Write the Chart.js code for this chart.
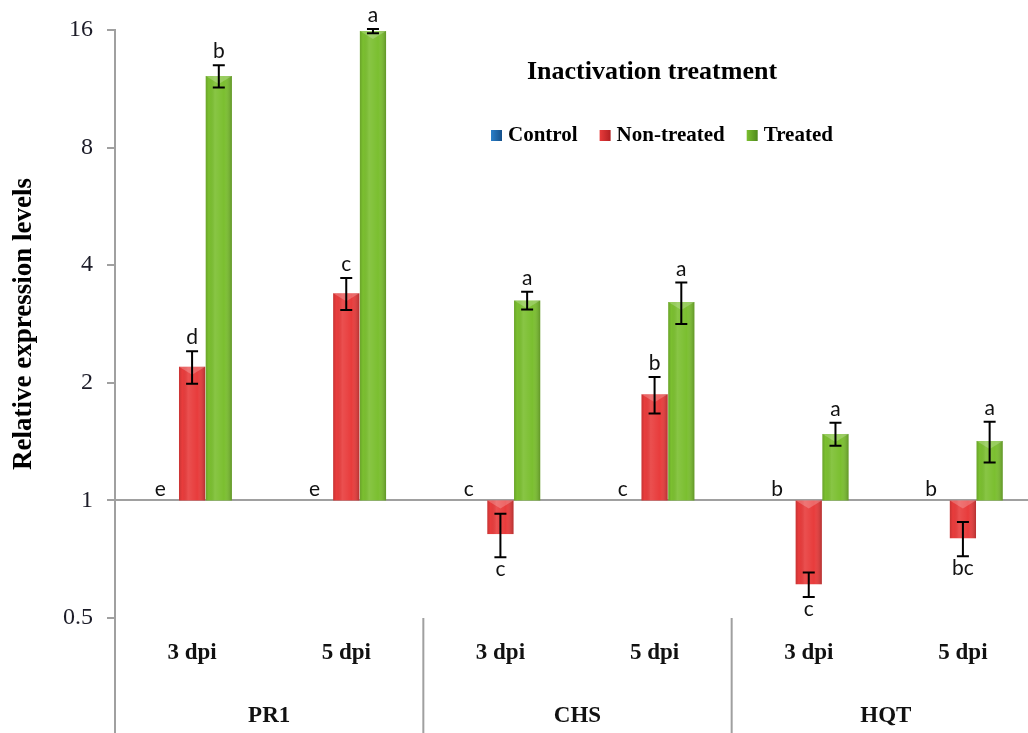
<!DOCTYPE html>
<html>
<head>
<meta charset="utf-8">
<script src="https://cdn.jsdelivr.net/npm/chart.js@4.4.1/dist/chart.umd.min.js"></script>
<style>
  html, body { margin: 0; padding: 0; background: #fff; overflow: hidden; }
  #wrap { width: 1040px; height: 733px; }
</style>
</head>
<body>
<div id="wrap"><canvas id="myChart"></canvas></div>
<script>
// sampling days and genes
const dpiLabels = ['3 dpi', '5 dpi', '3 dpi', '5 dpi', '3 dpi', '5 dpi'];
const geneLabels = ['PR1', 'CHS', 'HQT'];
const yTicks = [0.5, 1, 2, 4, 8, 16];

// relative expression (fold change, control = 1)
const controlValues = [1, 1, 1, 1, 1, 1];
const nonTreatedValues = [2.2, 3.39, 0.82, 1.87, 0.61, 0.80];
const treatedValues = [12.2, 15.9, 3.25, 3.22, 1.48, 1.42];

// standard deviations
const controlErrors = [0, 0, 0, 0, 0, 0];
const nonTreatedErrors = [0.21, 0.32, 0.105, 0.2, 0.044, 0.08];
const treatedErrors = [0.8, 0.2, 0.17, 0.39, 0.1, 0.17];

// significance groups
const controlLetters = ['e', 'e', 'c', 'c', 'b', 'b'];
const nonTreatedLetters = ['d', 'c', 'c', 'b', 'c', 'bc'];
const treatedLetters = ['b', 'a', 'a', 'a', 'a', 'a'];

const serif = '"Liberation Serif", "Times New Roman", serif';
const sans = 'Lato, "Liberation Sans", sans-serif';

// bars start at 1 so values below 1 hang downward on the log axis
const fromOne = values => values.map(v => [1, v]);

// glossy shading on top of every bar
const barShade = {
    id: 'barShade',
    afterDatasetsDraw(chart) {
        const ctx = chart.ctx;
        chart.data.datasets.forEach((ds, di) => {
            chart.getDatasetMeta(di).data.forEach(bar => {
                const { x, y, base, width } = bar.getProps(['x', 'y', 'base', 'width'], true);
                const top = Math.min(y, base);
                const h = Math.abs(base - y);
                if (h < 1) return;
                const left = x - width / 2;
                const g = ctx.createLinearGradient(left, 0, left + width, 0);
                g.addColorStop(0, 'rgba(0,0,0,0.14)');
                g.addColorStop(0.12, 'rgba(0,0,0,0)');
                g.addColorStop(0.35, 'rgba(255,255,255,0.1)');
                g.addColorStop(0.7, 'rgba(255,255,255,0)');
                g.addColorStop(1, 'rgba(0,0,0,0.22)');
                ctx.save();
                ctx.fillStyle = g;
                ctx.fillRect(left, top, width, h);
                ctx.beginPath();
                ctx.moveTo(left, top);
                ctx.lineTo(left + width, top);
                ctx.lineTo(x, top + Math.min(8, h));
                ctx.closePath();
                ctx.fillStyle = 'rgba(255,255,255,0.22)';
                ctx.fill();
                ctx.restore();
            });
        });
    }
};

// error bars and letters
const errorLetters = {
    id: 'errorLetters',
    afterDatasetsDraw(chart) {
        const ctx = chart.ctx;
        const yScale = chart.scales.y;
        ctx.save();
        chart.data.datasets.forEach((ds, di) => {
            chart.getDatasetMeta(di).data.forEach((bar, i) => {
                const v = ds.data[i][1];
                const err = ds.errors[i];
                const x = bar.x;
                ctx.font = '21px ' + sans;
                ctx.fillStyle = '#111';
                ctx.textAlign = 'center';
                ctx.textBaseline = 'alphabetic';
                if (err === 0) {
                    ctx.fillText(ds.letters[i], x - 5, yScale.getPixelForValue(1) - 4);
                    return;
                }
                const yHi = yScale.getPixelForValue(v + err);
                const yLo = yScale.getPixelForValue(v - err);
                ctx.strokeStyle = '#000';
                ctx.lineWidth = 2;
                ctx.beginPath();
                ctx.moveTo(x, yHi); ctx.lineTo(x, yLo);
                ctx.moveTo(x - 6, yHi); ctx.lineTo(x + 6, yHi);
                ctx.moveTo(x - 6, yLo); ctx.lineTo(x + 6, yLo);
                ctx.stroke();
                if (v >= 1) {
                    ctx.fillText(ds.letters[i], x, yHi - 7);
                } else {
                    ctx.fillText(ds.letters[i], x, yLo + 19);
                }
            });
        });
        ctx.restore();
    }
};

// title, legend, and the axis lines running through the label rows
const frame = {
    id: 'frame',
    afterDraw(chart) {
        const ctx = chart.ctx;
        const area = chart.chartArea;
        const xScale = chart.scales.x;
        const bottom = chart.height;
        ctx.save();
        ctx.strokeStyle = '#a0a0a0';
        ctx.lineWidth = 2;
        ctx.beginPath();
        ctx.moveTo(area.left, area.bottom);
        ctx.lineTo(area.left, bottom);
        [1, 3].forEach(i => {
            const sx = (xScale.getPixelForValue(i) + xScale.getPixelForValue(i + 1)) / 2;
            ctx.moveTo(sx, area.bottom);
            ctx.lineTo(sx, bottom);
        });
        ctx.stroke();

        ctx.fillStyle = '#000';
        ctx.textAlign = 'center';
        ctx.textBaseline = 'middle';
        ctx.font = 'bold 26px ' + serif;
        ctx.fillText('Inactivation treatment', 652, 72);

        ctx.font = 'bold 21px ' + serif;
        ctx.textAlign = 'left';
        let lx = 491;
        chart.data.datasets.forEach(ds => {
            const g = ctx.createLinearGradient(lx, 0, lx + 11, 0);
            g.addColorStop(0, ds.backgroundColor);
            g.addColorStop(1, ds.borderColor);
            ctx.fillStyle = g;
            ctx.fillRect(lx, 130, 11, 11);
            lx += 17;
            ctx.fillStyle = '#000';
            ctx.fillText(ds.label, lx, 136);
            lx += ctx.measureText(ds.label).width + 22;
        });
        ctx.restore();
    }
};

new Chart(document.getElementById('myChart'), {
    type: 'bar',
    data: {
        labels: dpiLabels,
        datasets: [
            {
                label: 'Control',
                data: fromOne(controlValues),
                errors: controlErrors,
                letters: controlLetters,
                backgroundColor: '#2a7fc9',
                borderColor: '#15508a'
            },
            {
                label: 'Non-treated',
                data: fromOne(nonTreatedValues),
                errors: nonTreatedErrors,
                letters: nonTreatedLetters,
                backgroundColor: '#e83c3c',
                borderColor: '#b21f22'
            },
            {
                label: 'Treated',
                data: fromOne(treatedValues),
                errors: treatedErrors,
                letters: treatedLetters,
                backgroundColor: '#7bbf30',
                borderColor: '#4f8a1c'
            }
        ]
    },
    options: {
        responsive: true,
        maintainAspectRatio: false,
        animation: false,
        categoryPercentage: 0.52,
        barPercentage: 0.98,
        borderWidth: 0,
        layout: { padding: { top: 30, right: 0, left: 0, bottom: 0 } },
        plugins: {
            legend: { display: false },
            tooltip: { enabled: false }
        },
        scales: {
            y: {
                type: 'logarithmic',
                min: 0.5,
                max: 16,
                afterBuildTicks: scale => {
                    scale.ticks = yTicks.map(v => ({ value: v }));
                },
                afterFit: scale => { scale.width = 115; },
                ticks: {
                    autoSkip: false,
                    padding: 14,
                    color: '#1c1c28',
                    font: { family: serif, size: 24 },
                    callback: v => String(v)
                },
                grid: {
                    drawOnChartArea: true,
                    color: c => (c.tick && c.tick.value === 1 ? '#a0a0a0' : 'rgba(0,0,0,0)'),
                    tickColor: '#a0a0a0',
                    tickLength: 8,
                    lineWidth: 2
                },
                border: { display: true, color: '#a0a0a0', width: 2 },
                title: {
                    display: true,
                    text: 'Relative expression levels',
                    color: '#000',
                    font: { family: serif, size: 27, weight: 'bold' },
                    padding: { top: 8, bottom: 0 }
                }
            },
            x: {
                afterFit: scale => { scale.height = 65; },
                grid: { display: false, drawTicks: false },
                border: { display: false },
                ticks: {
                    padding: 21,
                    color: '#111',
                    font: { family: serif, size: 23, weight: 'bold' }
                }
            },
            x2: {
                type: 'category',
                position: 'bottom',
                labels: geneLabels,
                offset: true,
                weight: 1,
                afterFit: scale => { scale.height = 50; },
                grid: { display: false, drawTicks: false },
                border: { display: false },
                ticks: {
                    padding: 19,
                    color: '#111',
                    font: { family: serif, size: 23, weight: 'bold' }
                }
            }
        }
    },
    plugins: [barShade, errorLetters, frame]
});
</script>
</body>
</html>
